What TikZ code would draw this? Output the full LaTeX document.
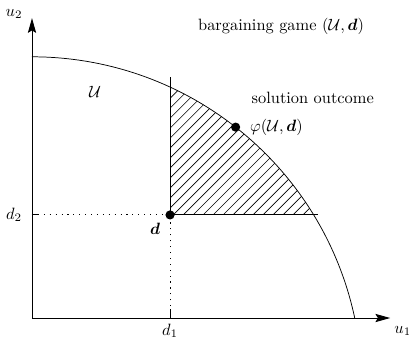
\documentclass[tikz,border=0pt]{standalone}
\usepackage{amsmath}
\usepackage{tikz}
\usetikzlibrary{arrows.meta,positioning,calc}

\begin{document}
\begin{tikzpicture}[
    axis/.style     = {-{Stealth[length=9pt,width=5pt,inset=1.5pt]}, line width=0.6pt},
    frontier/.style = {line width=0.45pt},
    edge/.style     = {line width=0.6pt},
    guide/.style    = {line width=0.6pt, dash pattern=on 0.7pt off 2.9pt},
    hatch/.style    = {line width=0.4pt},
    dot/.style      = {circle, fill, inner sep=0pt, minimum size=5.6pt},
]
\useasboundingbox (-0.686,-0.429) rectangle (8.083,6.818);

% ---------------- Axes ----------------
\coordinate (O) at (0,0);
\coordinate (xend) at (7.68,0);
\coordinate (yend) at (0,6.43);
\draw[axis] (O) -- (xend);
\draw[axis] (O) -- (yend);
\node (u1) at (7.95,-0.28) {$u_1$};
\node (u2) at (-0.386,6.52) {$u_2$};

% ---------------- Frontier of U ----------------
\coordinate (C) at (0,-1.475);
\draw[frontier] (0,5.6) arc[start angle=90, end angle=12.03, radius=7.075];

% ---------------- Disagreement point ----------------
\coordinate (d) at (2.96,2.21);
\coordinate (d1) at (2.96,0);
\coordinate (d2) at (0,2.21);
\coordinate (dtop) at (2.96,5.17);
\coordinate (dright) at (6.13,2.21);

% hatched part of U above d
\begin{scope}
  \clip (d) rectangle (7.5,6.5);
  \clip (C) circle[radius=7.075];
  \foreach \k in {0,...,40}
    \draw[hatch] ($(d)+(-4+0.214*\k,0)$) -- ++(5,5);
\end{scope}

\draw[edge] (d) -- (dtop);
\draw[edge] (d) -- (dright);
\draw[guide] (d2) -- (d);
\draw[guide] (d1) -- (d);
\draw[edge] (d1) -- ++(0,0.2);
\draw[edge] (d2) -- ++(0.12,0);

\node[dot] (dpt) at (d) {};
\node[dot] (phi) at ($(C)+(51.9:7.075)$) {};

% ---------------- Labels ----------------
\node (dlbl) at (2.64,1.91) {$\boldsymbol{d}$};
\node (d1lbl) at (2.96,-0.28) {$d_1$};
\node (d2lbl) at (-0.386,2.21) {$d_2$};
\node (Ulbl) at (1.35,4.85) {$\mathcal{U}$};
\node (game) at (5.34,6.26) {bargaining game $(\mathcal{U},\boldsymbol{d})$};
\node (sol) at (6.02,4.72) {solution outcome};
\node[right=0.08cm of phi] (philbl) {$\varphi(\mathcal{U},\boldsymbol{d})$};

\end{tikzpicture}
\end{document}
